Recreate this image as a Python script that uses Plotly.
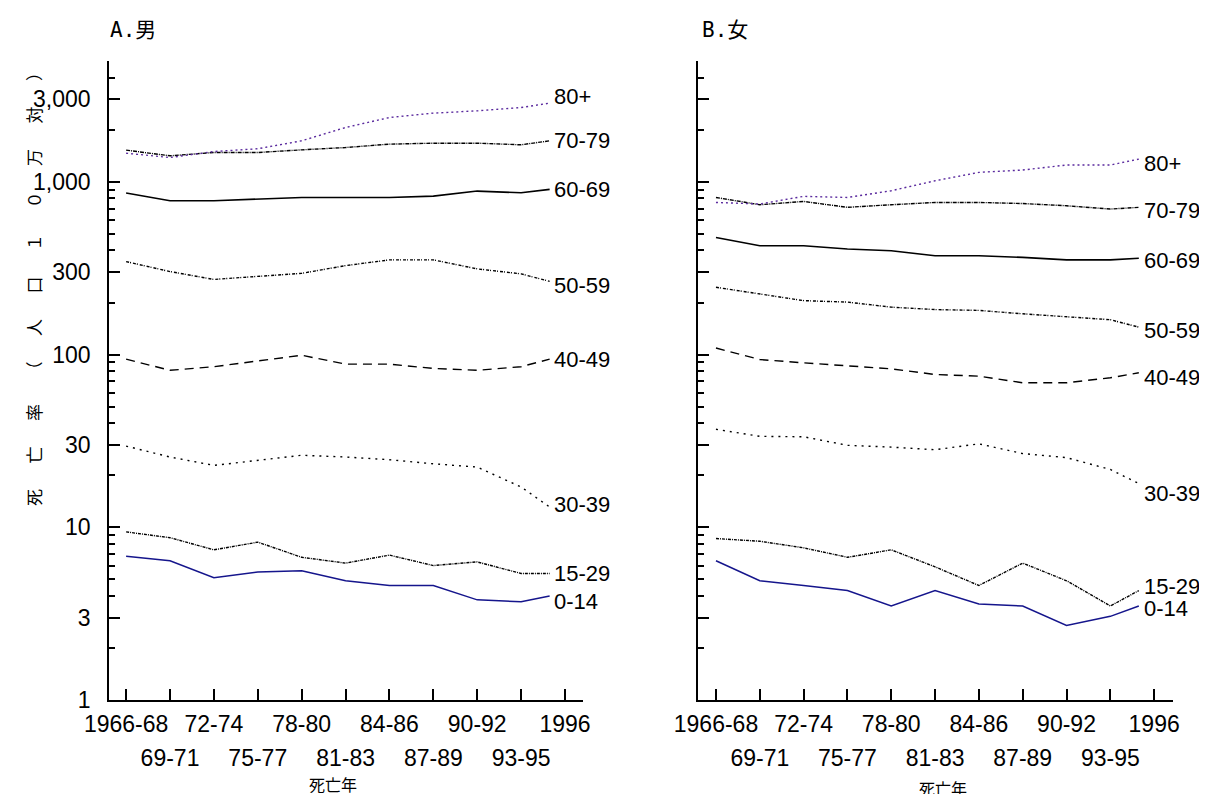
import math
import plotly.graph_objects as go

# ---------------- data ----------------
periods = ["1966-68", "69-71", "72-74", "75-77", "78-80", "81-83",
           "84-86", "87-89", "90-92", "93-95", "1996"]
tick_pos = list(range(len(periods)))
x_pos = [0, 1, 2, 3, 4, 5, 6, 7, 8, 9, 9.65]

age_groups = ["0-14", "15-29", "30-39", "40-49", "50-59", "60-69", "70-79", "80+"]

male_0_14 = [6.8, 6.4, 5.1, 5.5, 5.6, 4.9, 4.6, 4.6, 3.8, 3.7, 4.0]
male_15_29 = [9.4, 8.7, 7.4, 8.2, 6.7, 6.2, 6.9, 6.0, 6.3, 5.4, 5.4]
male_30_39 = [29.5, 25.5, 22.8, 24.4, 26.1, 25.5, 24.6, 23.3, 22.3, 17.1, 13.1]
male_40_49 = [94, 81, 85, 92, 99, 88, 88, 83, 81, 85, 94]
male_50_59 = [345, 302, 272, 284, 295, 327, 353, 353, 313, 293, 265]
male_60_69 = [860, 777, 777, 794, 811, 811, 811, 826, 883, 863, 903]
male_70_79 = [1524, 1413, 1477, 1477, 1530, 1578, 1651, 1672, 1672, 1636, 1726]
male_80 = [1463, 1381, 1496, 1552, 1726, 2061, 2354, 2497, 2572, 2690, 2851]

female_0_14 = [6.4, 4.9, 4.6, 4.3, 3.5, 4.3, 3.6, 3.5, 2.7, 3.05, 3.5]
female_15_29 = [8.6, 8.3, 7.6, 6.7, 7.4, 5.9, 4.6, 6.2, 4.9, 3.5, 4.3]
female_30_39 = [36.9, 33.6, 33.4, 29.8, 29.1, 28.1, 30.4, 26.7, 25.3, 21.6, 17.9]
female_40_49 = [109, 93.5, 89.5, 86.4, 82.6, 76.6, 74.9, 68.6, 68.6, 73.3, 78.4]
female_50_59 = [245, 224, 205, 201, 188, 182, 180, 172, 166, 159, 144]
female_60_69 = [476, 426, 426, 408, 399, 373, 373, 365, 353, 353, 361]
female_70_79 = [811, 736, 769, 711, 736, 759, 759, 748, 726, 695, 711]
female_80 = [759, 743, 823, 811, 887, 1013, 1133, 1169, 1250, 1250, 1352]

y_tickvals = [1, 3, 10, 30, 100, 300, 1000, 3000]
y_ticktext = ["1", "3", "10", "30", "100", "300", "1,000", "3,000"]
y_minor = [m * d for d in (1, 10, 100, 1000) for m in (2, 4, 5, 6, 7, 8, 9) if m * d <= 5000]

male = [male_0_14, male_15_29, male_30_39, male_40_49,
        male_50_59, male_60_69, male_70_79, male_80]
female = [female_0_14, female_15_29, female_30_39, female_40_49,
          female_50_59, female_60_69, female_70_79, female_80]

# ---------------- styles ----------------
NAVY = "#15158c"
PURPLE = "#5a2a9e"
styles = {
    "0-14": dict(color=NAVY, width=1.5, dash="solid"),
    "15-29": dict(color="black", width=1.4, dash="3px,1px,1px,1px"),
    "30-39": dict(color="black", width=1.4, dash="2px,5px"),
    "40-49": dict(color="black", width=1.4, dash="9px,6px"),
    "50-59": dict(color="black", width=1.4, dash="3px,1px,1px,2px"),
    "60-69": dict(color="black", width=1.6, dash="solid"),
    "70-79": dict(color="black", width=1.4, dash="4px,1px,1px,1px"),
    "80+": dict(color=PURPLE, width=1.4, dash="2px,3px"),
}
label_shift_m = {"80+": 7, "70-79": 0, "60-69": 0, "50-59": -4, "40-49": 0,
                 "30-39": 2, "15-29": 0, "0-14": -6}
label_shift_f = {"80+": -4, "70-79": -3, "60-69": -2, "50-59": -3, "40-49": -5,
                 "30-39": -10, "15-29": 4, "0-14": -2}

FONT = "Liberation Sans, Arial, sans-serif"
CJK = "Noto Sans CJK JP, sans-serif"
MONO = "DejaVu Sans Mono, monospace"

# the page places the figure 8px from the top-left corner of the window
OFF = 8
W, H = 1207 - OFF, 794 - OFF

def px(x):
    return (x - OFF) / W

def py(y):
    return 1 - (y - OFF) / H

fig = go.Figure()

panels = [("x", "y", male, label_shift_m, 2), ("x2", "y2", female, label_shift_f, 3)]
annotations = []
for xa, ya, series, shifts, xs in panels:
    for name, vals in zip(age_groups, series):
        fig.add_trace(go.Scatter(x=x_pos, y=vals, mode="lines", line=styles[name],
                                 xaxis=xa, yaxis=ya, showlegend=False, name=name,
                                 hoverinfo="x+y+name"))
        annotations.append(dict(x=x_pos[-1], y=math.log10(vals[-1]), xref=xa, yref=ya,
                                text=name, showarrow=False, xanchor="left",
                                yanchor="middle", xshift=xs, yshift=shifts[name],
                                font=dict(family=FONT, size=22, color="black")))

# dummy traces to hold the second-row label axes
fig.add_trace(go.Scatter(x=[None], y=[None], xaxis="x3", yaxis="y", showlegend=False, hoverinfo="skip"))
fig.add_trace(go.Scatter(x=[None], y=[None], xaxis="x4", yaxis="y2", showlegend=False, hoverinfo="skip"))

domA = [px(109), px(583)]
domB = [px(698), px(1173)]
ydom = [py(700), py(61)]
xrangeA = [-0.39, 10.41]
xrangeB = [-0.41, 10.43]

odd_idx = [i for i in tick_pos if i % 2 == 1]

def xaxis(dom, rng, anchor):
    return dict(domain=dom, range=rng, anchor=anchor, showline=True, linecolor="black",
                linewidth=1.5, ticks="inside", ticklen=11, tickwidth=1.5, tickcolor="black",
                tickmode="array", tickvals=tick_pos,
                ticktext=[periods[i] if i % 2 == 0 else "" for i in tick_pos],
                showgrid=False, zeroline=False, ticklabelstandoff=3, automargin=False,
                tickfont=dict(family=FONT, size=23, color="black"))

def xaxis_row2(dom, rng, anchor, over):
    return dict(domain=dom, range=rng, anchor=anchor, overlaying=over, side="bottom",
                showline=False, ticks="", tickmode="array", tickvals=odd_idx,
                ticktext=[periods[i] for i in odd_idx], showgrid=False, zeroline=False,
                ticklabelstandoff=42, automargin=False,
                tickfont=dict(family=FONT, size=23, color="black"))

def yaxis(anchor, labels):
    return dict(type="log", domain=ydom, range=[0, math.log10(5000)], anchor=anchor,
                showline=True, linecolor="black", linewidth=1.5,
                ticks="inside", ticklen=11, tickwidth=1.5, tickcolor="black",
                tickmode="array", tickvals=y_tickvals, ticktext=y_ticktext,
                showticklabels=labels, ticklabelstandoff=12, automargin=False,
                minor=dict(tickmode="array", tickvals=y_minor, ticks="inside",
                           ticklen=6, tickwidth=1.5, tickcolor="black", showgrid=False),
                showgrid=False, zeroline=False,
                tickfont=dict(family=FONT, size=23, color="black"))

def panel_title(letter, char):
    return (f'<span style="font-family:{MONO}">{letter}.</span>'
            f'<span style="font-family:{CJK}">{char}</span>')

GAP = "\u3000\u2002"
ytitle = GAP.join(["死", "亡", "率", "（", "人", "口", "１", "０", "万", "対", "）"])

annotations += [
    dict(x=px(108), y=py(28), xref="paper", yref="paper", text=panel_title("A", "男"),
         showarrow=False, xanchor="left", yanchor="middle",
         font=dict(family=CJK, size=21, color="black")),
    dict(x=px(700), y=py(28), xref="paper", yref="paper", text=panel_title("B", "女"),
         showarrow=False, xanchor="left", yanchor="middle",
         font=dict(family=CJK, size=21, color="black")),
    dict(x=px(333), y=py(784), xref="paper", yref="paper", text="死亡年", showarrow=False,
         xanchor="center", yanchor="middle", font=dict(family=CJK, size=16, color="black")),
    dict(x=px(943), y=py(788), xref="paper", yref="paper", text="死亡年", showarrow=False,
         xanchor="center", yanchor="middle", font=dict(family=CJK, size=16, color="black")),
    dict(x=px(33), y=py(285), xref="paper", yref="paper", text=ytitle,
         showarrow=False, textangle=-90, xanchor="center", yanchor="middle",
         font=dict(family=CJK, size=17, color="black")),
]

fig.update_layout(
    width=W, height=H,
    margin=dict(l=0, r=0, t=0, b=0, autoexpand=False),
    paper_bgcolor="white", plot_bgcolor="white",
    xaxis=xaxis(domA, xrangeA, "y"),
    xaxis2=xaxis(domB, xrangeB, "y2"),
    xaxis3=xaxis_row2(domA, xrangeA, "y", "x"),
    xaxis4=xaxis_row2(domB, xrangeB, "y2", "x2"),
    yaxis=yaxis("x", True),
    yaxis2=yaxis("x2", False),
    annotations=annotations,
    showlegend=False,
)

fig.write_html("out.html")
